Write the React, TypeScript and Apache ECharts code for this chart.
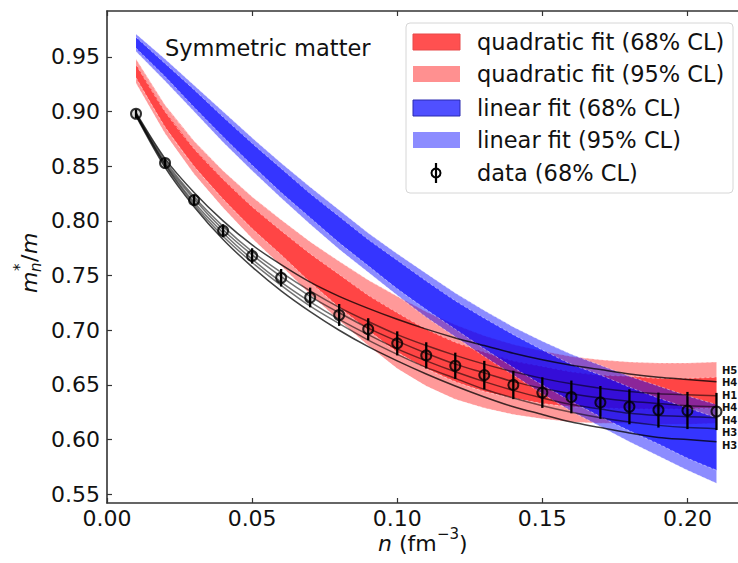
import React, { useEffect, useRef } from "react";
import * as echarts from "echarts";

// ---------------- data ----------------
const nValues = [0.01, 0.02, 0.03, 0.04, 0.05, 0.06, 0.07, 0.08, 0.09, 0.1, 0.11, 0.12, 0.13, 0.14, 0.15, 0.16, 0.17, 0.18, 0.19, 0.2, 0.21];

const dataMean = [0.898, 0.853, 0.819, 0.791, 0.768, 0.748, 0.73, 0.714, 0.701, 0.688, 0.677, 0.6675, 0.659, 0.65, 0.643, 0.639, 0.634, 0.63, 0.627, 0.6266, 0.6257];
const dataErr = [0.004, 0.004, 0.005, 0.006, 0.007, 0.008, 0.009, 0.01, 0.01, 0.011, 0.012, 0.012, 0.013, 0.013, 0.014, 0.015, 0.015, 0.016, 0.016, 0.017, 0.017];

const quad95Lower = [0.926, 0.88, 0.843, 0.812, 0.784, 0.759, 0.733, 0.709, 0.686, 0.665, 0.649, 0.637, 0.629, 0.623, 0.619, 0.616, 0.615, 0.615, 0.614, 0.614, 0.615];
const quad95Upper = [0.948, 0.906, 0.873, 0.846, 0.822, 0.801, 0.781, 0.763, 0.746, 0.731, 0.717, 0.705, 0.695, 0.687, 0.681, 0.676, 0.673, 0.671, 0.67, 0.67, 0.671];
const quad68Lower = [0.931, 0.886, 0.85, 0.82, 0.793, 0.769, 0.744, 0.721, 0.7, 0.68, 0.665, 0.653, 0.644, 0.638, 0.633, 0.63, 0.629, 0.628, 0.628, 0.628, 0.629];
const quad68Upper = [0.943, 0.9, 0.866, 0.838, 0.813, 0.791, 0.77, 0.751, 0.732, 0.716, 0.701, 0.689, 0.68, 0.672, 0.667, 0.662, 0.659, 0.658, 0.656, 0.656, 0.657];

const lin95Lower = [0.955, 0.928, 0.9, 0.872, 0.846, 0.821, 0.797, 0.774, 0.753, 0.732, 0.712, 0.694, 0.676, 0.659, 0.642, 0.626, 0.612, 0.598, 0.585, 0.572, 0.56];
const lin95Upper = [0.971, 0.948, 0.924, 0.9, 0.876, 0.853, 0.831, 0.81, 0.789, 0.77, 0.752, 0.734, 0.718, 0.703, 0.69, 0.678, 0.668, 0.658, 0.649, 0.64, 0.632];
const lin68Lower = [0.958, 0.932, 0.904, 0.877, 0.851, 0.826, 0.803, 0.78, 0.759, 0.738, 0.719, 0.701, 0.683, 0.666, 0.65, 0.635, 0.621, 0.608, 0.596, 0.583, 0.572];
const lin68Upper = [0.968, 0.944, 0.92, 0.895, 0.871, 0.848, 0.825, 0.804, 0.783, 0.764, 0.745, 0.727, 0.711, 0.696, 0.682, 0.669, 0.659, 0.648, 0.638, 0.629, 0.62];

// individual model curves (black lines)
const modelH5 = [0.899, 0.857, 0.826, 0.8, 0.778, 0.76, 0.744, 0.731, 0.72, 0.71, 0.701, 0.693, 0.686, 0.679, 0.673, 0.668, 0.664, 0.66, 0.657, 0.655, 0.653];
const modelH4a = [0.898, 0.855, 0.822, 0.795, 0.772, 0.753, 0.736, 0.721, 0.708, 0.696, 0.686, 0.677, 0.669, 0.662, 0.656, 0.651, 0.647, 0.644, 0.642, 0.641, 0.64];
const modelH1 = [0.898, 0.853, 0.82, 0.792, 0.769, 0.749, 0.731, 0.716, 0.702, 0.69, 0.679, 0.669, 0.661, 0.653, 0.647, 0.642, 0.638, 0.635, 0.633, 0.631, 0.63];
const modelH4b = [0.897, 0.852, 0.817, 0.789, 0.765, 0.744, 0.726, 0.71, 0.696, 0.683, 0.672, 0.662, 0.653, 0.645, 0.638, 0.632, 0.628, 0.624, 0.622, 0.621, 0.62];
const modelH3a = [0.897, 0.851, 0.815, 0.786, 0.762, 0.741, 0.722, 0.706, 0.691, 0.678, 0.666, 0.656, 0.646, 0.638, 0.631, 0.625, 0.62, 0.616, 0.613, 0.611, 0.61];
const modelH3b = [0.896, 0.849, 0.813, 0.783, 0.758, 0.736, 0.717, 0.7, 0.685, 0.672, 0.66, 0.649, 0.639, 0.63, 0.623, 0.616, 0.611, 0.606, 0.602, 0.6, 0.598];
const modelCurves = [modelH5, modelH4a, modelH1, modelH4b, modelH3a, modelH3b];

const sideLabels = ["H5", "H4", "H1", "H4", "H4", "H3", "H3"];
const yTickValues = [0.55, 0.6, 0.65, 0.7, 0.75, 0.8, 0.85, 0.9, 0.95];
const legendLabels = [
  "quadratic fit (68% CL)",
  "quadratic fit (95% CL)",
  "linear fit (68% CL)",
  "linear fit (95% CL)",
  "data (68% CL)",
];
const annotation = "Symmetric matter";

// ---------------- styling ----------------
const FONT = "DejaVu Sans";
const AXIS_COLOR = "#333";
const RED95 = "rgba(255,0,0,0.40)";
const RED68 = "rgba(255,0,0,0.55)";
const BLUE95 = "rgba(0,0,255,0.45)";
const BLUE68 = "rgba(0,0,255,0.62)";

function bandSeries(lower: number[], upper: number[], fill: string, z: number) {
  return {
    type: "custom",
    data: [[nValues[0], lower[0]]],
    clip: true,
    silent: true,
    z,
    renderItem: (_p: any, api: any) => {
      const top = nValues.map((x, i) => api.coord([x, upper[i]]));
      const bot = nValues.map((x, i) => api.coord([x, lower[i]]));
      const poly = top.concat(bot.slice().reverse());
      return {
        type: "group",
        children: [
          { type: "polygon", shape: { points: poly }, style: { fill, stroke: "none" } },
          {
            type: "polyline",
            shape: { points: top, smooth: 0.3 },
            style: { fill: "none", stroke: "rgba(255,255,255,0.55)", lineWidth: 0.8, lineDash: [3, 2] },
          },
          {
            type: "polyline",
            shape: { points: bot, smooth: 0.3 },
            style: { fill: "none", stroke: "rgba(255,255,255,0.55)", lineWidth: 0.8, lineDash: [3, 2] },
          },
        ],
      };
    },
  };
}

export default function App() {
  const ref = useRef<HTMLDivElement>(null);

  useEffect(() => {
    if (!ref.current) return;
    const chart = echarts.init(ref.current, undefined, { renderer: "svg" });

    const legendRowY = [42, 74, 108, 140, 173];
    const legendPatchColors = ["#ff5050", "#ff9090", "#5050ff", "#8c8cff"];

    const graphics: any[] = [];
    // legend frame
    graphics.push({
      type: "rect",
      shape: { x: 406, y: 23, width: 327, height: 170, r: 4 },
      style: { fill: "rgba(255,255,255,0.85)", stroke: "#d6d6d6", lineWidth: 1 },
      z: 100,
    });
    legendLabels.forEach((label, i) => {
      const cy = legendRowY[i];
      if (i < 4) {
        graphics.push({
          type: "rect",
          shape: { x: 413, y: cy - 8, width: 47, height: 16 },
          style: {
            fill: legendPatchColors[i],
            stroke: i === 2 ? "#2a2ab0" : i === 0 ? "#e84848" : "none",
            lineWidth: 1,
          },
          z: 101,
        });
      } else {
        graphics.push({
          type: "line",
          shape: { x1: 436, y1: cy - 10, x2: 436, y2: cy + 10 },
          style: { stroke: "#000", lineWidth: 2.2 },
          z: 101,
        });
        graphics.push({
          type: "circle",
          shape: { cx: 436, cy, r: 4.5 },
          style: { fill: "none", stroke: "#000", lineWidth: 2 },
          z: 101,
        });
      }
      graphics.push({
        type: "text",
        x: 477,
        y: cy,
        style: { text: label, fontFamily: FONT, fontSize: 22.5, fill: "#111", verticalAlign: "middle" },
        z: 101,
      });
    });

    // annotation
    graphics.push({
      type: "text",
      x: 165,
      y: 48,
      style: { text: annotation, fontFamily: FONT, fontSize: 22.5, fill: "#111", verticalAlign: "middle" },
      z: 50,
    });

    // side labels at the right edge
    const sideY = [370, 382.5, 395, 407.5, 420, 432.5, 445];
    sideLabels.forEach((t, i) => {
      graphics.push({
        type: "text",
        x: 722,
        y: sideY[i],
        style: { text: t, fontFamily: FONT, fontSize: 10, fontWeight: "bold", fill: "#111", verticalAlign: "middle" },
        z: 50,
      });
    });

    // y axis name m*_n / m (rotated)
    graphics.push({
      type: "group",
      x: 29,
      y: 262,
      rotation: Math.PI / 2,
      children: [
        { type: "text", x: -31, y: 0, style: { text: "m", fontFamily: FONT, fontStyle: "italic", fontSize: 22, fill: "#111", verticalAlign: "middle" } },
        { type: "text", x: -9, y: -9, style: { text: "*", fontFamily: FONT, fontSize: 15, fill: "#111", verticalAlign: "middle" } },
        { type: "text", x: -10, y: 7, style: { text: "n", fontFamily: FONT, fontStyle: "italic", fontSize: 15, fill: "#111", verticalAlign: "middle" } },
        { type: "text", x: 0, y: 0, style: { text: "/", fontFamily: FONT, fontSize: 22, fill: "#111", verticalAlign: "middle" } },
        { type: "text", x: 8, y: 0, style: { text: "m", fontFamily: FONT, fontStyle: "italic", fontSize: 22, fill: "#111", verticalAlign: "middle" } },
      ],
    });

    // x axis name n (fm^-3)
    graphics.push({
      type: "group",
      x: 378,
      y: 543,
      children: [
        { type: "text", x: 0, y: 0, style: { text: "n", fontFamily: FONT, fontStyle: "italic", fontSize: 22, fill: "#111", verticalAlign: "middle" } },
        { type: "text", x: 14, y: 0, style: { text: " (fm", fontFamily: FONT, fontSize: 22, fill: "#111", verticalAlign: "middle" } },
        { type: "text", x: 59, y: -9, style: { text: "\u22123", fontFamily: FONT, fontSize: 15, fill: "#111", verticalAlign: "middle" } },
        { type: "text", x: 81, y: 0, style: { text: ")", fontFamily: FONT, fontSize: 22, fill: "#111", verticalAlign: "middle" } },
      ],
    });

    const lineSeries = modelCurves.map((vals, k) => ({
      type: "line",
      data: nValues.map((x, i) => [x, vals[i]]),
      showSymbol: false,
      smooth: 0.3,
      silent: true,
      z: 10,
      lineStyle: { color: k === 0 || k === 5 ? "rgba(0,0,0,0.75)" : "rgba(0,0,0,0.55)", width: 1.5 },
    }));

    const option: any = {
      animation: false,
      backgroundColor: "#fff",
      grid: { left: 107, top: 11, width: 638.5, height: 492, containLabel: false, outerBoundsMode: "none" },
      xAxis: [
        {
          type: "value",
          min: 0,
          max: 0.22,
          interval: 0.05,
          position: "bottom",
          axisLine: { show: true, onZero: false, lineStyle: { color: AXIS_COLOR, width: 1.6 } },
          axisTick: { show: true, inside: true, length: 5, lineStyle: { color: AXIS_COLOR, width: 1.2 } },
          axisLabel: {
            show: true,
            margin: 4,
            fontFamily: FONT,
            fontSize: 22,
            color: "#111",
            showMaxLabel: false,
            formatter: (v: number) => (v > 0.205 ? "" : v.toFixed(2)),
          },
          splitLine: { show: false },
        },
        {
          type: "value",
          min: 0,
          max: 0.22,
          interval: 0.05,
          position: "top",
          axisLine: { show: true, onZero: false, lineStyle: { color: AXIS_COLOR, width: 1.6 } },
          axisTick: { show: true, inside: true, length: 5, lineStyle: { color: AXIS_COLOR, width: 1.2 } },
          axisLabel: { show: false },
          splitLine: { show: false },
        },
      ],
      yAxis: {
        type: "value",
        min: 0.542,
        max: 0.992,
        axisLine: { show: true, onZero: false, lineStyle: { color: AXIS_COLOR, width: 1.6 } },
        axisTick: { show: true, inside: true, length: 5, customValues: yTickValues, lineStyle: { color: AXIS_COLOR, width: 1.2 } },
        axisLabel: {
          show: true,
          margin: 7,
          fontFamily: FONT,
          fontSize: 22,
          color: "#111",
          customValues: yTickValues,
          formatter: (v: number) => v.toFixed(2),
        },
        splitLine: { show: false },
      },
      graphic: graphics,
      series: [
        bandSeries(quad95Lower, quad95Upper, RED95, 2),
        bandSeries(quad68Lower, quad68Upper, RED68, 3),
        bandSeries(lin95Lower, lin95Upper, BLUE95, 4),
        bandSeries(lin68Lower, lin68Upper, BLUE68, 5),
        ...lineSeries,
        {
          type: "custom",
          z: 20,
          silent: true,
          data: nValues.map((x, i) => [x, dataMean[i], dataErr[i]]),
          encode: { x: 0, y: 1 },
          renderItem: (_p: any, api: any) => {
            const x = api.value(0);
            const y = api.value(1);
            const e = api.value(2);
            const a = api.coord([x, y - e]);
            const b = api.coord([x, y + e]);
            return {
              type: "line",
              shape: { x1: a[0], y1: a[1], x2: b[0], y2: b[1] },
              style: { stroke: "#000", lineWidth: 2.3 },
            };
          },
        },
        {
          type: "scatter",
          z: 21,
          silent: true,
          symbol: "circle",
          symbolSize: 10,
          data: nValues.map((x, i) => [x, dataMean[i]]),
          itemStyle: { color: "rgba(0,0,0,0.15)", borderColor: "#000", borderWidth: 2 },
        },
      ],
    };

    chart.setOption(option);
    return () => chart.dispose();
  }, []);

  return (
    <div
      ref={ref}
      style={{ position: "fixed", left: 0, top: 0, width: 738, height: 563, overflow: "hidden" }}
    />
  );
}
